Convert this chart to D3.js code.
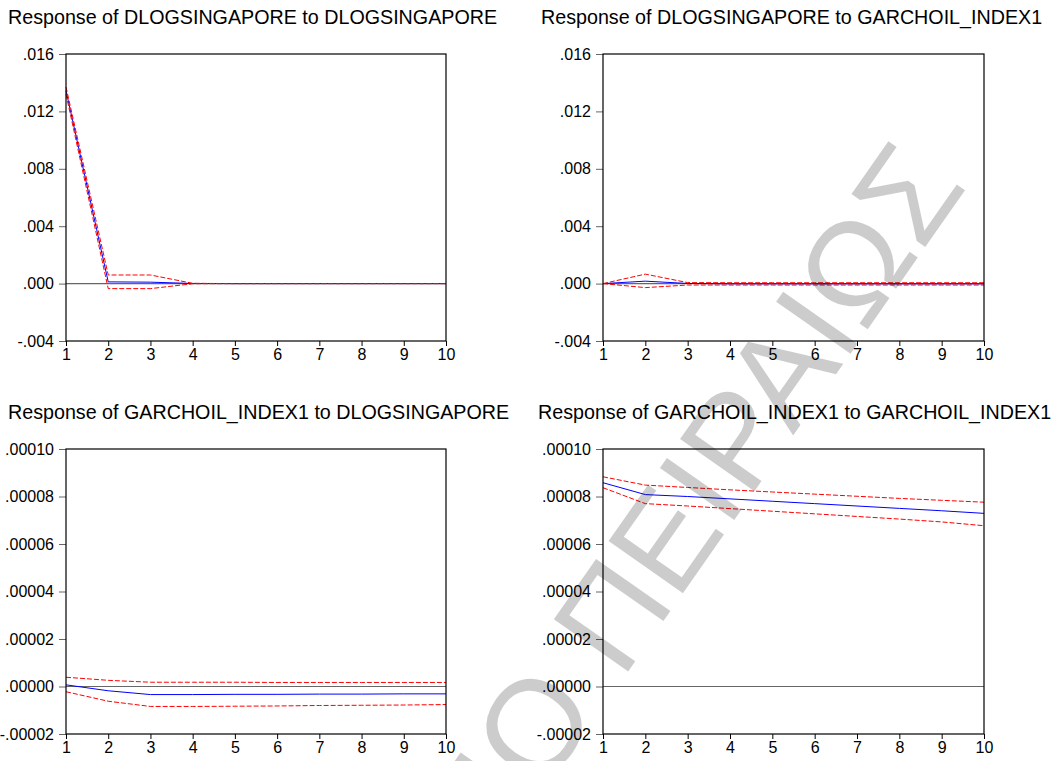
<!DOCTYPE html>
<html>
<head>
<meta charset="utf-8">
<script src="https://cdn.jsdelivr.net/npm/d3@7"></script>
<style>
  body { margin: 0; background: #fff; }
  svg { display: block; font-family: "Liberation Sans", Arial, sans-serif; }
</style>
</head>
<body>
<script>
"use strict";

const w = 1055;
const h = 761;

// periods on the x axis
const periods = [1, 2, 3, 4, 5, 6, 7, 8, 9, 10];

const titles = [
  "Response of DLOGSINGAPORE to DLOGSINGAPORE",
  "Response of DLOGSINGAPORE to GARCHOIL_INDEX1",
  "Response of GARCHOIL_INDEX1 to DLOGSINGAPORE",
  "Response of GARCHOIL_INDEX1 to GARCHOIL_INDEX1"
];

// y tick values
const ticksTop = [-0.004, 0, 0.004, 0.008, 0.012, 0.016];
const ticksBottom = [-0.00002, 0, 0.00002, 0.00004, 0.00006, 0.00008, 0.0001];

// DLOGSINGAPORE to DLOGSINGAPORE
const resp1 = [0.01345, 0.00012, 0.0001, 0.00001, 0, 0, 0, 0, 0, 0];
const upper1 = [0.0137, 0.0006, 0.0006, 0.00002, 0, 0, 0, 0, 0, 0];
const lower1 = [0.0132, -0.00035, -0.00035, -0.00001, 0, 0, 0, 0, 0, 0];

// DLOGSINGAPORE to GARCHOIL_INDEX1
const resp2 = [0, 0.00017, 0.00001, -0.00002, -0.00002, -0.00002, -0.00002, -0.00002, -0.00002, -0.00002];
const upper2 = [0, 0.00066, 0.00007, 0.00006, 0.00006, 0.00006, 0.00006, 0.00006, 0.00006, 0.00006];
const lower2 = [0, -0.00028, -0.0001, -0.0001, -0.0001, -0.0001, -0.0001, -0.0001, -0.0001, -0.0001];

// GARCHOIL_INDEX1 to DLOGSINGAPORE
const resp3 = [0.0000007, -0.0000018, -0.0000034, -0.0000034, -0.0000033, -0.0000033, -0.0000032, -0.0000032, -0.0000031, -0.0000031];
const upper3 = [0.0000039, 0.0000026, 0.0000018, 0.0000018, 0.0000018, 0.0000017, 0.0000017, 0.0000017, 0.0000017, 0.0000017];
const lower3 = [-0.0000022, -0.0000062, -0.0000084, -0.0000084, -0.0000083, -0.0000082, -0.000008, -0.0000079, -0.0000078, -0.0000076];

// GARCHOIL_INDEX1 to GARCHOIL_INDEX1
const resp4 = [0.0000858, 0.0000808, 0.00008, 0.000079, 0.000078, 0.000077, 0.000076, 0.000075, 0.000074, 0.0000729];
const upper4 = [0.0000883, 0.0000848, 0.0000838, 0.0000828, 0.0000819, 0.000081, 0.0000801, 0.0000792, 0.0000784, 0.0000776];
const lower4 = [0.0000837, 0.000077, 0.000076, 0.0000749, 0.0000738, 0.0000727, 0.0000716, 0.0000705, 0.0000693, 0.0000677];

const panels = [
  { title: titles[0], tx: 8, ty: 24, x0: 66, x1: 446, y0: 54, y1: 341, ticks: ticksTop, digits: 3, resp: resp1, upper: upper1, lower: lower1 },
  { title: titles[1], tx: 541, ty: 24, x0: 603, x1: 984, y0: 54, y1: 341, ticks: ticksTop, digits: 3, resp: resp2, upper: upper2, lower: lower2 },
  { title: titles[2], tx: 8, ty: 419, x0: 66, x1: 446, y0: 449, y1: 734, ticks: ticksBottom, digits: 5, resp: resp3, upper: upper3, lower: lower3 },
  { title: titles[3], tx: 538, ty: 419, x0: 603, x1: 984, y0: 449, y1: 734, ticks: ticksBottom, digits: 5, resp: resp4, upper: upper4, lower: lower4 }
];

const svg = d3.select("body").append("svg").attr("width", w).attr("height", h);

const drawPanel = (p) => {
  const g = svg.append("g");
  const x = d3.scaleLinear().domain([1, 10]).range([p.x0, p.x1]);
  const y = d3.scaleLinear().domain([p.ticks[0], p.ticks[p.ticks.length - 1]]).range([p.y1, p.y0]);
  //EViews style labels: ".004", "-.004"
  const fmt = (v) => (Math.abs(v) < 1e-12 ? 0 : v).toFixed(p.digits).replace(/^(-?)0\./, "$1.");

  g.append("text")
    .attr("x", p.tx)
    .attr("y", p.ty)
    .attr("font-size", 19.7)
    .attr("fill", "#000")
    .text(p.title);

  // y axis
  const yAxis = d3.axisLeft(y).tickValues(p.ticks).tickFormat(fmt).tickSize(7).tickPadding(5);
  g.append("g")
    .attr("transform", `translate(${p.x0},0)`)
    .call(yAxis)
    .call((a) => a.select(".domain").remove())
    .call((a) => a.selectAll(".tick line").attr("stroke", "#666"))
    .call((a) => a.selectAll(".tick text").attr("font-size", 16).attr("font-family", "Liberation Sans, Arial, sans-serif").attr("fill", "#000"));

  // x axis
  const xAxis = d3.axisBottom(x).tickValues(periods).tickFormat((d) => String(d)).tickSize(5).tickPadding(3);
  g.append("g")
    .attr("transform", `translate(0,${p.y1})`)
    .call(xAxis)
    .call((a) => a.select(".domain").remove())
    .call((a) => a.selectAll(".tick line").attr("stroke", "#000"))
    .call((a) => a.selectAll(".tick text").attr("font-size", 16).attr("font-family", "Liberation Sans, Arial, sans-serif").attr("fill", "#000"));

  // zero line
  g.append("line")
    .attr("x1", x(1)).attr("x2", x(10))
    .attr("y1", y(0)).attr("y2", y(0))
    .attr("stroke", "#666")
    .attr("stroke-width", 1.2);

  const line = d3.line().x((d, i) => x(periods[i])).y((d) => y(d));

  g.append("path")
    .attr("d", line(p.resp))
    .attr("fill", "none")
    .attr("stroke", "#0000ff")
    .attr("stroke-width", 1);

  [p.upper, p.lower].forEach((band) => {
    g.append("path")
      .attr("d", line(band))
      .attr("fill", "none")
      .attr("stroke", "#ff0000")
      .attr("stroke-width", 1)
      .attr("stroke-dasharray", "5,2");
  });

  // frame
  g.append("rect")
    .attr("x", p.x0).attr("y", p.y0)
    .attr("width", p.x1 - p.x0).attr("height", p.y1 - p.y0)
    .attr("fill", "none")
    .attr("stroke", "#000")
    .attr("stroke-width", 1.2);
};

panels.forEach(drawPanel);

// watermark
svg.append("text")
  .attr("transform", "translate(968,186) rotate(-55)")
  .attr("text-anchor", "end")
  .attr("font-size", 132)
  .attr("fill", "#000")
  .attr("fill-opacity", 0.2)
  .text("ΠΑΝΕΠΙΣΤΗΜΙΟ ΠΕΙΡΑΙΩΣ");
</script>
</body>
</html>
